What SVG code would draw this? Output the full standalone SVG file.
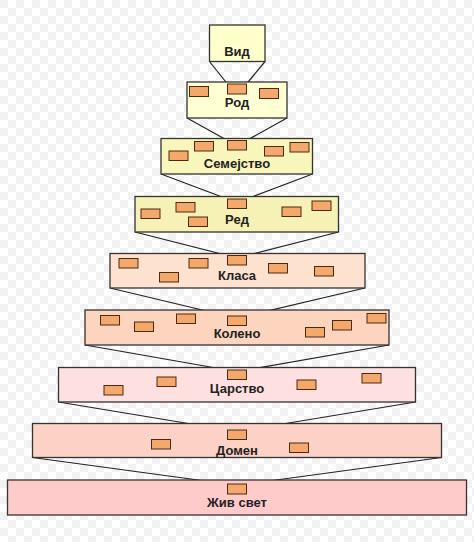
<svg xmlns="http://www.w3.org/2000/svg" width="474" height="542" viewBox="0 0 474 542">
<defs>
<pattern id="chk" width="16" height="16" patternUnits="userSpaceOnUse">
<rect width="16" height="16" fill="#ffffff"/>
<rect width="8" height="8" fill="#f2f2f2"/>
<rect x="8" y="8" width="8" height="8" fill="#f2f2f2"/>
</pattern>
</defs>
<style>
.box{stroke:#333;stroke-width:1.3}
.s{fill:#f5a86c;stroke:#4a2a12;stroke-width:1}
.t{font-family:"Liberation Sans",Arial,sans-serif;font-weight:bold;font-size:13px;fill:#222;text-anchor:middle}
.c{fill:none;stroke:#222;stroke-width:1.2}
</style>
<rect width="474" height="542" fill="url(#chk)"/>
<g id="connectors">
<polyline class="c" points="209.5,61.5 227.5,84"/><polyline class="c" points="265,61.5 246.5,84"/>
<polyline class="c" points="187,118 227.5,140.5"/><polyline class="c" points="287,118 246.5,140.5"/>
<polyline class="c" points="161,174 227.5,199"/><polyline class="c" points="312.5,174 246.5,199"/>
<polyline class="c" points="135,232 227.5,255.5"/><polyline class="c" points="338.5,232 246.5,255.5"/>
<polyline class="c" points="110,288 227.5,316"/><polyline class="c" points="365,288 246.5,316"/>
<polyline class="c" points="85,345 227.5,370"/><polyline class="c" points="389,345 246.5,370"/>
<polyline class="c" points="58.5,402 227.5,430"/><polyline class="c" points="415.5,402 246.5,430"/>
<polyline class="c" points="32.5,457.5 227.5,484"/><polyline class="c" points="441.5,457.5 246.5,484"/>
</g>
<g id="vid">
<rect class="box" x="209.5" y="25" width="55.5" height="36.5" fill="#ffffcc"/>
<text class="t" x="237" y="55.5">Вид</text>
</g>
<g id="rod">
<rect class="box" x="187" y="82" width="100" height="36" fill="#ffffd4"/>
<rect class="s" x="189.5" y="86.5" width="19" height="10"/>
<rect class="s" x="227.5" y="84" width="19" height="10"/>
<rect class="s" x="259.5" y="88.5" width="19" height="10"/>
<text class="t" x="237" y="107">Род</text>
</g>
<g id="semejstvo">
<rect class="box" x="161" y="138.5" width="151.5" height="35.5" fill="#f8f6ba"/>
<rect class="s" x="169" y="151" width="19" height="9.5"/>
<rect class="s" x="194.5" y="141.5" width="19" height="9.5"/>
<rect class="s" x="227.5" y="140.5" width="19" height="9.5"/>
<rect class="s" x="264.5" y="146.5" width="19" height="9.5"/>
<rect class="s" x="290" y="142.5" width="19" height="9.5"/>
<text class="t" x="237" y="167.5">Семејство</text>
</g>
<g id="red">
<rect class="box" x="135" y="196.5" width="203.5" height="35.5" fill="#f6f1b4"/>
<rect class="s" x="141" y="209" width="19" height="9.5"/>
<rect class="s" x="176" y="202.5" width="19" height="9.5"/>
<rect class="s" x="188.5" y="217" width="19" height="9.5"/>
<rect class="s" x="227.5" y="199" width="19" height="9.5"/>
<rect class="s" x="282" y="207" width="19" height="9.5"/>
<rect class="s" x="312" y="201" width="19" height="9.5"/>
<text class="t" x="237" y="223.5">Ред</text>
</g>
<g id="klasa">
<rect class="box" x="110" y="253.5" width="255" height="34.5" fill="#fde2cf"/>
<rect class="s" x="119" y="258.5" width="19" height="9.5"/>
<rect class="s" x="159.5" y="272.5" width="19" height="9.5"/>
<rect class="s" x="189" y="258.5" width="19" height="9.5"/>
<rect class="s" x="227.5" y="255.5" width="19" height="9.5"/>
<rect class="s" x="268.5" y="263.5" width="19" height="9.5"/>
<rect class="s" x="314.5" y="266.5" width="19" height="9.5"/>
<text class="t" x="237" y="280">Класа</text>
</g>
<g id="koleno">
<rect class="box" x="85" y="310" width="304" height="35" fill="#fdd5bf"/>
<rect class="s" x="100.5" y="315.5" width="19" height="9.5"/>
<rect class="s" x="134.5" y="322" width="19" height="9.5"/>
<rect class="s" x="176.5" y="314" width="19" height="9.5"/>
<rect class="s" x="227.5" y="316" width="19" height="9.5"/>
<rect class="s" x="305.5" y="327.5" width="19" height="9.5"/>
<rect class="s" x="332.5" y="320.5" width="19" height="9.5"/>
<rect class="s" x="367" y="313.5" width="19" height="9.5"/>
<text class="t" x="237" y="337.5">Колено</text>
</g>
<g id="carstvo">
<rect class="box" x="58.5" y="367.5" width="357" height="34.5" fill="#fde0df"/>
<rect class="s" x="104" y="385.5" width="19" height="9.5"/>
<rect class="s" x="157" y="377" width="19" height="9.5"/>
<rect class="s" x="227.5" y="370" width="19" height="9.5"/>
<rect class="s" x="297" y="380" width="19" height="9.5"/>
<rect class="s" x="362" y="373.5" width="19" height="9.5"/>
<text class="t" x="237" y="392.5">Царство</text>
</g>
<g id="domen">
<rect class="box" x="32.5" y="423.5" width="409" height="34" fill="#fdd2c6"/>
<rect class="s" x="151.5" y="439.5" width="19" height="9.5"/>
<rect class="s" x="227.5" y="430" width="19" height="9.5"/>
<rect class="s" x="289.5" y="443" width="19" height="9.5"/>
<text class="t" x="237" y="455">Домен</text>
</g>
<g id="ziv-svet">
<rect class="box" x="7.5" y="480" width="459" height="35" fill="#ffcaca"/>
<rect class="s" x="227.5" y="484" width="19" height="10"/>
<text class="t" x="237" y="507">Жив свет</text>
</g>
</svg>
